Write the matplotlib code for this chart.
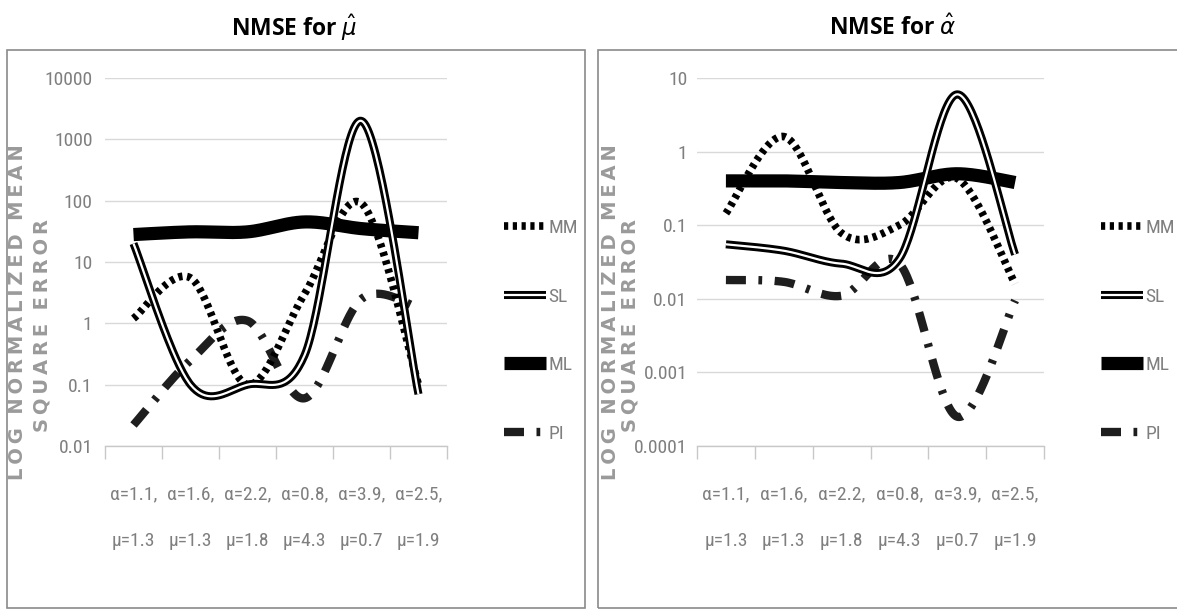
import numpy as np
import matplotlib
matplotlib.use("Agg")
import matplotlib.pyplot as plt
from matplotlib.patches import Rectangle
from matplotlib.lines import Line2D
from matplotlib.legend_handler import HandlerTuple
from matplotlib import font_manager

# ---------------- data ----------------
categories = ["α=1.1,\nμ=1.3", "α=1.6,\nμ=1.3", "α=2.2,\nμ=1.8",
              "α=0.8,\nμ=4.3", "α=3.9,\nμ=0.7", "α=2.5,\nμ=1.9"]
series_names = ["MM", "SL", "ML", "PI"]

mu_MM = [1.2, 5.5, 0.1, 3.0, 90, 0.1]
mu_SL = [20, 0.1, 0.1, 0.3, 2000, 0.07]
mu_ML = [28, 31, 31, 45, 35, 30]
mu_PI = [0.022, 0.25, 1.1, 0.06, 2.5, 1.8]

al_MM = [0.145, 1.6, 0.078, 0.1, 0.43, 0.016]
al_SL = [0.055, 0.045, 0.03, 0.035, 6.0, 0.04]
al_ML = [0.4, 0.4, 0.38, 0.38, 0.5, 0.38]
al_PI = [0.018, 0.017, 0.011, 0.03, 0.00025, 0.0095]

mu_ticks = ["0.01", "0.1", "1", "10", "100", "1000", "10000"]
al_ticks = ["0.0001", "0.001", "0.01", "0.1", "1", "10"]

# ---------------- fonts ----------------
avail = {f.name for f in font_manager.fontManager.ttflist}
narrow = [f for f in ["Liberation Sans Narrow", "Roboto Condensed", "Open Sans Condensed",
                      "DejaVu Sans Condensed", "Liberation Sans"] if f in avail] + ["DejaVu Sans"]
GRAY = "#7f7f7f"

W, H = 1177, 612
fig = plt.figure(figsize=(W / 100, H / 100), dpi=100)


def fx(px):
    return px / W


def fy(py):
    return 1 - py / H


def smooth(vals, n=40):
    """Excel-style smoothed line (Bezier through points) in log space."""
    y = np.log10(np.asarray(vals, float))
    x = np.arange(len(y), dtype=float)
    pts = np.column_stack([x, y])
    P = np.vstack([pts[0], pts, pts[-1]])
    out = []
    t = np.linspace(0, 1, n)[:, None]
    for i in range(len(pts) - 1):
        p0, p1, p2, p3 = P[i], P[i + 1], P[i + 2], P[i + 3]
        c1 = p1 + (p2 - p0) / 6
        c2 = p2 - (p3 - p1) / 6
        seg = (1 - t) ** 3 * p1 + 3 * (1 - t) ** 2 * t * c1 + 3 * (1 - t) * t ** 2 * c2 + t ** 3 * p2
        out.append(seg if i == 0 else seg[1:])
    arr = np.vstack(out)
    return arr[:, 0], 10 ** arr[:, 1]


MM_style = dict(color="black", lw=5.5, linestyle=(0, (0.55, 0.6)), dash_capstyle="butt")
SL_outer = dict(color="black", lw=5.8, solid_capstyle="butt")
SL_inner = dict(color="white", lw=1.6, solid_capstyle="butt")
ML_style = dict(color="black", lw=9.5, solid_capstyle="butt")
PI_style = dict(color="#1e1e1e", lw=6.0, linestyle=(0, (2.4, 1.5, 0.45, 1.5)), dash_capstyle="butt")


def spaced(words):
    return "  ".join("\u2009".join(list(w)) for w in words)


def panel(rect, mm, sl, ml, pi, ylim, ticks, legend_x, ylab_x, ypad):
    ax = fig.add_axes(rect)
    ax.set_yscale("log")
    ax.set_xlim(-0.5, len(categories) - 0.5)
    ax.set_ylim(*ylim)
    yt = [float(t) for t in ticks]
    ax.set_yticks(yt)
    ax.set_yticklabels(ticks)
    ax.yaxis.set_minor_locator(matplotlib.ticker.NullLocator())
    ax.grid(axis="y", color="#d9d9d9", lw=1.0)
    ax.set_axisbelow(True)
    for s in ["left", "right", "top"]:
        ax.spines[s].set_visible(False)
    ax.spines["bottom"].set_color("#c8c8c8")
    ax.spines["bottom"].set_linewidth(1.0)
    ax.set_xticks(range(len(categories)))
    ax.set_xticklabels(categories, linespacing=3.1)
    ax.set_xticks(np.arange(-0.5, len(categories)), minor=True)
    ax.tick_params(axis="x", which="major", length=0, pad=28, labelsize=14, labelcolor=GRAY)
    ax.tick_params(axis="x", which="minor", length=9, color="#c8c8c8", width=1)
    ax.tick_params(axis="y", length=0, pad=ypad, labelsize=14, labelcolor=GRAY)
    for lab in ax.get_xticklabels() + ax.get_yticklabels():
        lab.set_family(narrow)

    x, y = smooth(ml)
    ax.plot(x, y, **ML_style, zorder=3)
    x, y = smooth(pi)
    ax.plot(x, y, **PI_style, zorder=4)
    x, y = smooth(mm)
    ax.plot(x, y, **MM_style, zorder=5)
    x, y = smooth(sl)
    ax.plot(x, y, **SL_outer, zorder=6)
    ax.plot(x, y, **SL_inner, zorder=7)

    h_mm = Line2D([], [], **MM_style)
    h_sl = (Line2D([], [], **SL_outer), Line2D([], [], **SL_inner))
    h_ml = Line2D([], [], **ML_style)
    h_pi = Line2D([], [], **PI_style)
    leg = fig.legend([h_mm, h_sl, h_ml, h_pi], series_names,
                     handler_map={tuple: HandlerTuple(ndivide=1)},
                     loc="center left", bbox_to_anchor=(fx(legend_x), fy(331)),
                     frameon=False, fontsize=14, labelspacing=2.6, handlelength=2.15,
                     handletextpad=0.15, borderpad=0)
    for t in leg.get_texts():
        t.set_color(GRAY)
        t.set_family(narrow)

    l1 = spaced(["LOG", "NORMALIZED", "MEAN"])
    l2 = spaced(["SQUARE", "ERROR"])
    fig.text(fx(ylab_x[0]), fy(312), l1, rotation=90, ha="center", va="center",
             fontsize=14, fontweight="bold", color="#9a9a9a", family="DejaVu Sans")
    fig.text(fx(ylab_x[1]), fy(326), l2, rotation=90, ha="center", va="center",
             fontsize=14, fontweight="bold", color="#9a9a9a", family="DejaVu Sans")
    return ax


# boxes
fig.patches.append(Rectangle((fx(7), fy(608)), fx(585 - 7), fy(50) - fy(608),
                             transform=fig.transFigure, fill=False, ec="#8a8a8a", lw=1.2))
fig.patches.append(Rectangle((fx(598), fy(608)), fx(1190 - 598), fy(50) - fy(608),
                             transform=fig.transFigure, fill=False, ec="#8a8a8a", lw=1.2))

top, bot = 78, 446
panel([fx(105), fy(bot), fx(447 - 105), fy(top) - fy(bot)],
      mu_MM, mu_SL, mu_ML, mu_PI, (0.01, 10000), mu_ticks, 494, (18, 42), 9)
panel([fx(697), fy(bot), fx(1044 - 697), fy(top) - fy(bot)],
      al_MM, al_SL, al_ML, al_PI, (0.0001, 10), al_ticks, 1091, (611, 630), 7)

tfont = [f for f in ["Open Sans", "Lato"] if f in avail] + ["DejaVu Sans"]
fig.text(fx(294), fy(28), r"NMSE for $\hat{\mu}$", ha="center", va="center",
         fontsize=16.5, fontweight="bold", family=tfont)
fig.text(fx(893), fy(28), r"NMSE for $\hat{\alpha}$", ha="center", va="center",
         fontsize=16.5, fontweight="bold", family=tfont)

fig.savefig("out.png", dpi=100)
